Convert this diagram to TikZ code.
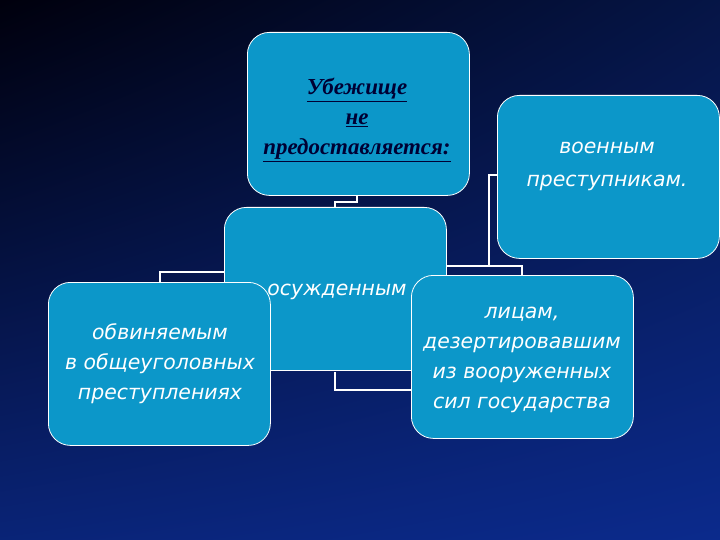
\documentclass[tikz,border=0pt]{standalone}
\usepackage{fontspec}
\usetikzlibrary{shadings}
\setmainfont{DejaVu Sans}
\newfontfamily\serifit{Liberation Serif}
\begin{document}
\begin{tikzpicture}[x=1bp,y=-1bp,
  box/.style={draw=white,line width=0.8bp,fill=boxblue,rounded corners=22bp,minimum width=222bp,minimum height=163bp,anchor=north west,inner sep=0pt},
  txt/.style={text=white,align=center,font=\fontsize{20.5}{30}\selectfont\itshape},
  conn/.style={draw=white,line width=1.6bp}]
\definecolor{boxblue}{HTML}{0C97C9}
\definecolor{bgblue}{HTML}{0B2A8C}
\shade[upper left=black!95!blue,upper right=bgblue!50!black,lower left=bgblue!85!black,lower right=bgblue] (0,0) rectangle (720,540);
\useasboundingbox (0,0) rectangle (720,540);
% connectors
\coordinate (c1) at (357,202);
\coordinate (c2) at (335,202);
\coordinate (c3) at (160,272);
\coordinate (c4) at (489,175);
\coordinate (c5) at (489,266);
\coordinate (c6) at (522,266);
\coordinate (c7) at (335,390);
\draw[conn] (357,196) -- (c1) -- (c2) -- (335,207);
\draw[conn] (224,272) -- (c3) -- (160,282);
\draw[conn] (497,175) -- (c4) -- (c5);
\draw[conn] (446,266) -- (c6) -- (522,275);
\draw[conn] (335,372) -- (c7) -- (411,390);
% boxes
\node[box] (top) at (247,32) {};
\node[box] (right) at (497,95) {};
\node[box] (mid) at (224,207) {};
\node[box] (left) at (48,282) {};
\node[box] (br) at (411,275) {};
\node[align=center,text=black!80!blue,font=\fontsize{23}{30}\selectfont\serifit\bfseries\itshape] (t1) at (357,120)
 {\underline{Убежище}\\\underline{не}\\\underline{предоставляется:}};
\node[txt,font=\fontsize{20.5}{33}\selectfont\itshape] (t2) at (607,166) {военным\\преступникам.};
\node[txt] (t3) at (337,292) {осужденным};
\node[txt] (t4) at (160,364) {обвиняемым\\в общеуголовных\\преступлениях};
\node[txt] (t5) at (522,360) {лицам,\\дезертировавшим\\из вооруженных\\сил государства};
\end{tikzpicture}
\end{document}
